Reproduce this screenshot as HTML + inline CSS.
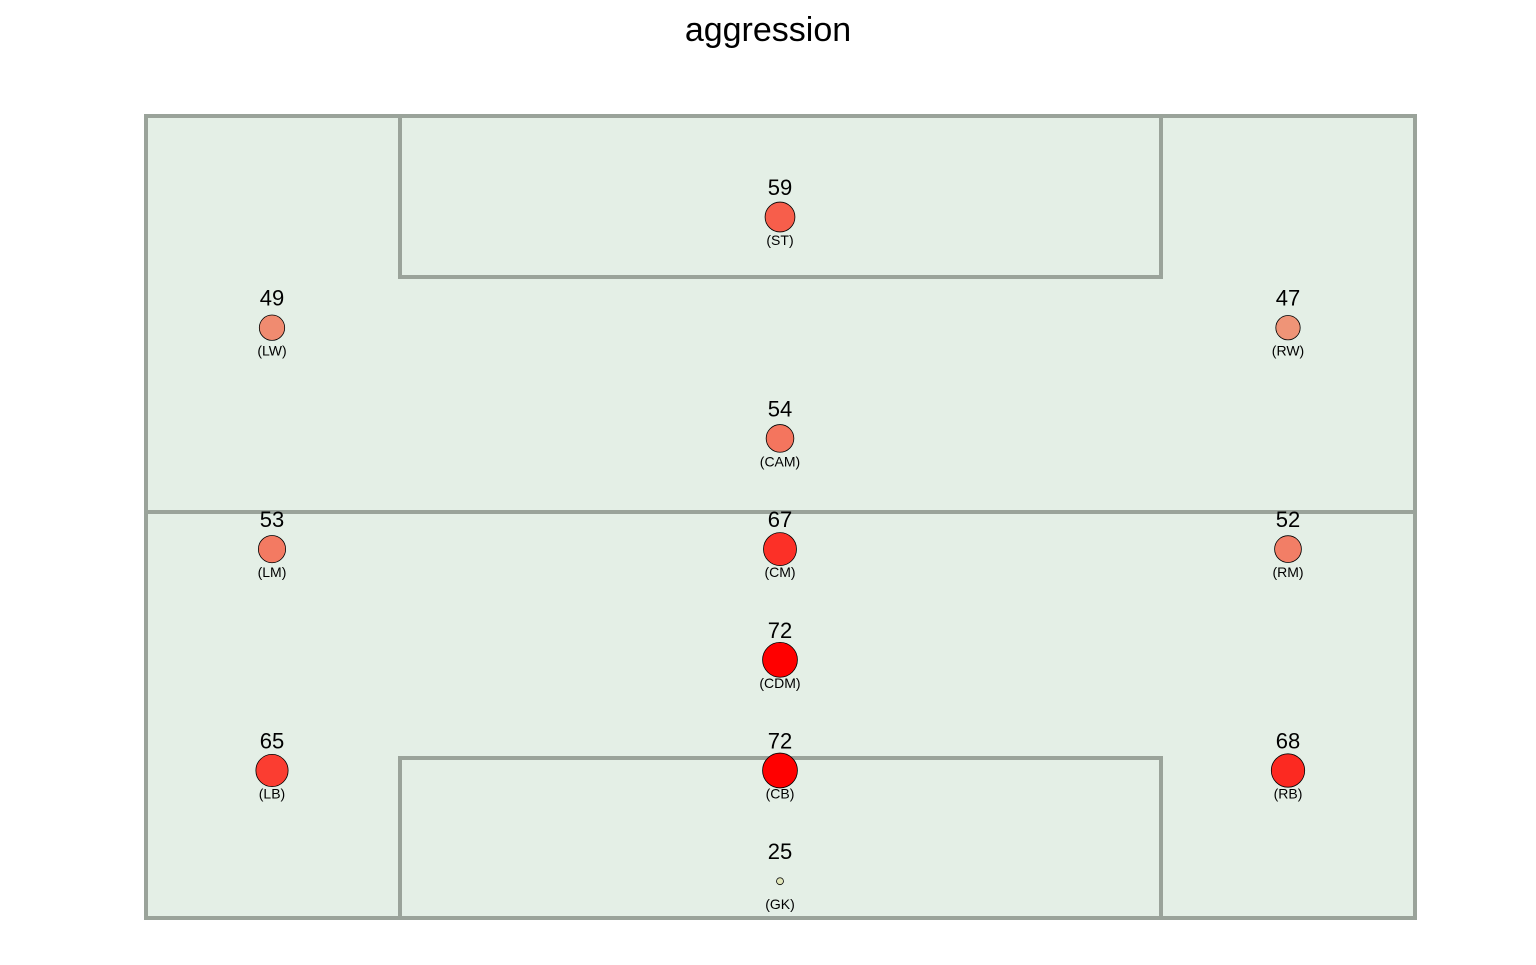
<!DOCTYPE html>
<html><head><meta charset="utf-8"><style>
body{margin:0;background:#fff;width:1536px;height:960px;overflow:hidden;font-family:"Liberation Sans",Arial,sans-serif}
</style></head><body>
<svg width="1536" height="960" xmlns="http://www.w3.org/2000/svg">
<text x="768" y="41" text-anchor="middle" font-size="34" font-family="Liberation Sans, sans-serif">aggression</text>
<g stroke="#9aa39a" stroke-width="4" fill="none">
<rect x="146" y="116" width="1269" height="802" fill="#e4efe6"/>
<line x1="146" y1="512" x2="1415" y2="512"/>
<polyline points="400,116 400,277 1161,277 1161,116"/>
<polyline points="400,918 400,758 1161,758 1161,918"/>
</g>
<g id="pts"></g>
</svg>
<script>
const positions=["ST","LW","RW","CAM","LM","CM","RM","CDM","LB","CB","RB","GK"];
const values=[59,49,47,54,53,67,52,72,65,72,68,25];
const cols=[1,0,2,1,0,1,2,1,0,1,2,1];
const rows=[0,1,1,2,3,3,3,4,5,5,5,6];
const xs=c=>272+c*508;
const ys=r=>217+r*110.7;
const vmin=25,vmax=72;
const g=document.getElementById('pts');
const NS="http://www.w3.org/2000/svg";
for(let i=0;i<values.length;i++){
 const v=values[i],x=xs(cols[i]),y=ys(rows[i]);
 const f=(v-vmin)/(vmax-vmin);
 const r=Math.sqrt(12+(v-vmin)*6.2);
 const k=Math.pow(1-f,0.7);
 const col=`rgb(${Math.round(225+30*f)},${Math.round(230*k)},${Math.round(185*k)})`;
 const c=document.createElementNS(NS,'circle');
 c.setAttribute('cx',x);c.setAttribute('cy',y);c.setAttribute('r',r);
 c.setAttribute('fill',col);c.setAttribute('stroke','#000');c.setAttribute('stroke-width','0.8');
 
 
 g.appendChild(c);
 const t=document.createElementNS(NS,'text');
 t.setAttribute('x',x);t.setAttribute('y',y-22);t.setAttribute('text-anchor','middle');
 t.setAttribute('font-size','22');t.textContent=v;
 
 
 g.appendChild(t);
 const p=document.createElementNS(NS,'text');
 p.setAttribute('x',x);p.setAttribute('y',y+28);p.setAttribute('text-anchor','middle');
 p.setAttribute('font-size','14');p.textContent='('+positions[i]+')';
 
 
 g.appendChild(p);
}
</script>
</body></html>
